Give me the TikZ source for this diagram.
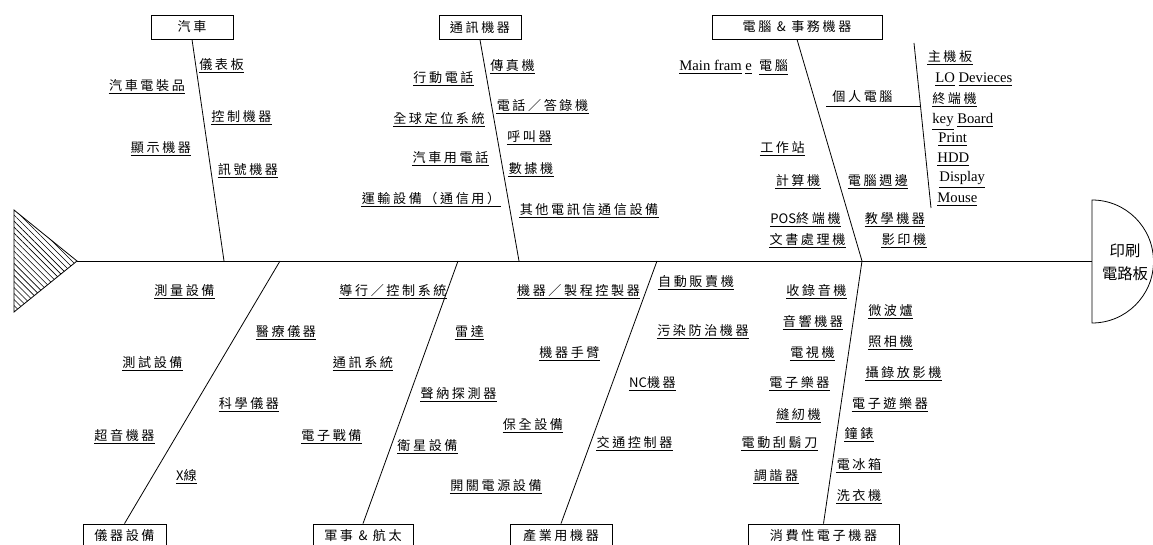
\documentclass[tikz,border=0pt]{standalone}
\usepackage{fontspec}
\setmainfont{Liberation Serif}
\newfontfamily\cjk[LetterSpace=20]{Noto Sans CJK TC}
\newfontfamily\cjn{Noto Sans CJK TC}
\newcommand\cj{\cjk\fontsize{9.8}{11}\selectfont}
\usetikzlibrary{patterns.meta}
\begin{document}
\begin{tikzpicture}[x=0.75pt,y=-0.75pt,line width=0.6pt,
  lbl/.style={inner xsep=0pt,inner ysep=0.8pt,anchor=south,font=\cj,
    append after command={\pgfextra{\let\ulnode\tikzlastnode}
      (\ulnode.south west) edge (\ulnode.south east)}},
  lt/.style={inner sep=0pt,anchor=base west,font=\fontsize{11}{13}\selectfont},
  box/.style={draw,font=\cj,minimum height=18pt,inner sep=0pt}]
\useasboundingbox (0,0) rectangle (1153,545);

% fish tail and head
\draw[pattern={Lines[angle=-45,distance=3.2pt,line width=0.45pt]}] (14,210) -- (77,261) -- (14,312) -- cycle;
\draw (1092,200) arc[start angle=-90,end angle=90,radius=61.5] -- cycle;
\node[font=\cjn\fontsize{11.5}{17}\selectfont,align=center,inner sep=0pt] (head) at (1125,262) {印刷\\電路板};
\coordinate (tip) at (77,261);
\coordinate (headL) at (1092,261);
\draw (tip) -- (headL);

% category boxes
\node[box,minimum width=61.5pt] (b1) at (192,27) {汽車};
\node[box,minimum width=61.5pt] (b2) at (480,27.5) {通訊機器};
\node[box,minimum width=127.5pt] (b3) at (797,27) {電腦 \& 事務機器};
\node[box,minimum width=62.25pt] (b4) at (124.5,536) {儀器設備};
\node[box,minimum width=75pt] (b5) at (363,536) {軍事 \& 航太};
\node[box,minimum width=76.5pt] (b6) at (561,536) {產業用機器};
\node[box,minimum width=113.25pt] (b7) at (823.5,536) {消費性電子機器};

% bones
\coordinate (s1) at (224,261);
\coordinate (s2) at (519,261);
\coordinate (s3) at (862,261);
\coordinate (s4) at (280,261);
\coordinate (s5) at (458,261);
\coordinate (s6) at (657,261);
\coordinate (s7) at (862,261);
\draw (b1.south) -- (s1);
\draw (b2.south) -- (s2);
\draw (b3.south) -- (s3);
\draw (b4.north) -- (s4);
\draw (b5.north) -- (s5);
\draw (b6.north) -- (s6);
\draw (b7.north) -- (s7);

% sub bones of 個人電腦
\coordinate (pc1) at (826,106);
\coordinate (pc2) at (920,106);
\coordinate (pv1) at (914,43);
\coordinate (pv2) at (931,208);
\draw (pc1) -- (pc2);
\draw (pv1) -- (pv2);

% 汽車
\node[lbl] (a1) at (221.5,72) {儀表板};
\node[lbl] (a2) at (147,93) {汽車電裝品};
\node[lbl] (a3) at (241.5,124) {控制機器};
\node[lbl] (a4) at (161,155) {顯示機器};
\node[lbl] (a5) at (248,177) {訊號機器};

% 通訊機器
\node[lbl] (t1) at (512.5,73) {傳真機};
\node[lbl] (t2) at (443.5,85) {行動電話};
\node[lbl] (t3) at (542.5,113) {電話／答錄機};
\node[lbl] (t4) at (439,126) {全球定位系統};
\node[lbl] (t5) at (529.5,144) {呼叫器};
\node[lbl] (t6) at (450.5,165) {汽車用電話};
\node[lbl] (t7) at (531,176) {數據機};
\node[lbl] (t8) at (431,206) {運輸設備（通信用）};
\node[lbl] (t9) at (589,217) {其他電訊信通信設備};

% 電腦 & 事務機器
\node[lt] (c1) at (679,71) {\underline{Main fram} \underline{e}\ \ \underline{\cj 電腦}};
\node[inner xsep=0pt,inner ysep=0.8pt,anchor=south,font=\cj] (c2) at (862.5,104.5) {個人電腦};
\node[lbl] (c3) at (950,64) {主機板};
\node[lt] (c4) at (935,83) {\underline{LO} \underline{Devieces}};
\node[lbl] (c5) at (954.5,106) {終端機};
\node[lt] (c6) at (932,124) {\underline{key} \underline{Board}};
\node[lt] (c7) at (938,143) {\underline{Print}};
\node[lt] (c8) at (937,163) {\underline{HDD}};
\node[lt] (c9) at (939,182) {\underline{Display}};
\node[lt] (c10) at (937,203) {\underline{Mouse}};
\node[lbl] (c11) at (782.5,155) {工作站};
\node[lbl] (c12) at (798,188) {計算機};
\node[lbl] (c13) at (878,188) {電腦週邊};
\node[lbl] (c14) at (805.5,226) {{\cjn POS}終端機};
\node[lbl] (c15) at (895,226) {教學機器};
\node[lbl] (c16) at (807.5,247) {文書處理機};
\node[lbl] (c17) at (904,247) {影印機};

% 儀器設備
\node[lbl] (i1) at (184.5,298) {測量設備};
\node[lbl] (i2) at (286,339) {醫療儀器};
\node[lbl] (i3) at (152.5,370) {測試設備};
\node[lbl] (i4) at (249,411) {科學儀器};
\node[lbl] (i5) at (124.5,443) {超音機器};
\node[lbl] (i6) at (186.5,483) {{\cjn X}線};

% 軍事 & 航太
\node[lbl] (m1) at (393,298) {導行／控制系統};
\node[lbl] (m2) at (469.5,339) {雷達};
\node[lbl] (m3) at (363,370) {通訊系統};
\node[lbl] (m4) at (458.5,401) {聲納探測器};
\node[lbl] (m5) at (331.5,443) {電子戰備};
\node[lbl] (m6) at (533,432) {保全設備};
\node[lbl] (m7) at (427.5,453) {衛星設備};
\node[lbl] (m8) at (496,493) {開關電源設備};

% 產業用機器
\node[lbl] (p1) at (578.5,298) {機器／製程控製器};
\node[lbl] (p2) at (696,289) {自動販賣機};
\node[lbl] (p3) at (703,338) {污染防治機器};
\node[lbl] (p4) at (569.5,360) {機器手臂};
\node[lbl] (p5) at (652.5,390) {{\cjn NC}機器};
\node[lbl] (p6) at (634.5,450) {交通控制器};

% 消費性電子機器
\node[lbl] (e1) at (816.5,298) {收錄音機};
\node[lbl] (e2) at (813,329) {音響機器};
\node[lbl] (e3) at (812.5,360) {電視機};
\node[lbl] (e4) at (799.5,390) {電子樂器};
\node[lbl] (e5) at (798.5,422) {縫紉機};
\node[lbl] (e6) at (779.5,450) {電動刮鬍刀};
\node[lbl] (e7) at (776,483) {調諧器};
\node[lbl] (e8) at (890.5,318) {微波爐};
\node[lbl] (e9) at (890.5,349) {照相機};
\node[lbl] (e10) at (903.5,380) {攝錄放影機};
\node[lbl] (e11) at (890,411) {電子遊樂器};
\node[lbl] (e12) at (859,441) {鐘錶};
\node[lbl] (e13) at (859,472) {電冰箱};
\node[lbl] (e14) at (859,503) {洗衣機};
\end{tikzpicture}
\end{document}
